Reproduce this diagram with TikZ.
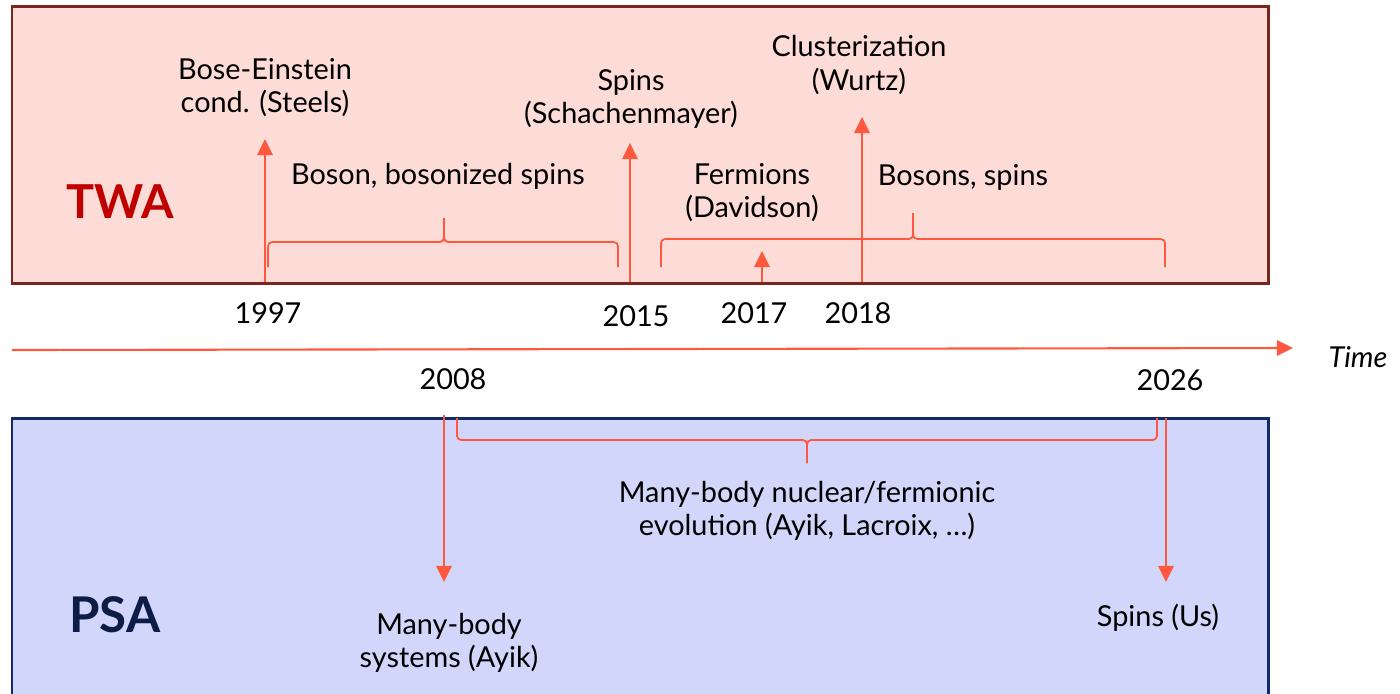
\documentclass[tikz,border=0pt]{standalone}
\usepackage{fontspec}
\setmainfont{Lato}
\usetikzlibrary{arrows.meta}
\definecolor{mtwafill}{RGB}{253,219,214}
\definecolor{mtwaline}{RGB}{122,38,30}
\definecolor{mtwatext}{RGB}{192,0,0}
\definecolor{mpsafill}{RGB}{209,214,250}
\definecolor{mpsaline}{RGB}{18,42,105}
\definecolor{mpsatext}{RGB}{12,28,68}
\definecolor{mevcolor}{RGB}{255,88,62}
\def\mboxleft{12}
\def\mboxright{1268}
\tikzset{
  evarrow/.style={draw=mevcolor, line width=0.6pt, -{Triangle[length=4.6pt,width=4.4pt]}},
  evbrace/.style={draw=mevcolor, line width=0.5pt, rounded corners=1.2pt},
  evlabel/.style={align=center, font=\fontsize{8.2}{9.4}\selectfont, inner sep=0pt},
  methlabel/.style={font=\fontsize{14}{16}\selectfont\bfseries, inner sep=0pt},
}
% brace: x1, x2, tip x, end y, middle y, tip y
\newcommand{\mbrace}[6]{%
  \draw[evbrace] (#1,#4) -- (#1,#5) -- (#3,#5) -- (#3,#6);
  \draw[evbrace] (#2,#4) -- (#2,#5) -- (#3,#5) -- (#3,#6);
}
\begin{document}
\begin{tikzpicture}[x=0.01cm, y=-0.01cm]
		\useasboundingbox (0,0) rectangle (1400,693);
		\clip (0,0) rectangle (1400,693);
		% TWA box
		\draw[fill=mtwafill, draw=mtwaline, line width=0.85pt] (\mboxleft,6) rectangle (\mboxright,283);
		\node[methlabel, font=\fontsize{13.3}{16}\selectfont\bfseries, text=mtwatext] (twa) at (120,202) {TWA};
		% PSA box (runs past the bottom edge)
		\draw[fill=mpsafill, draw=mpsaline, line width=0.85pt] (\mboxleft,418) rectangle (\mboxright,730);
		\node[methlabel, text=mpsatext] (psa) at (115,615) {PSA};

		% time axis
		\coordinate (t0) at (12,350);
		\coordinate (t1) at (1293,348);
		\draw[evarrow] (t0) -- (t1);
		\node[evlabel, font=\fontsize{8.2}{9.4}\selectfont\itshape] (time) at (1358,357) {Time};

		% years
		\node[evlabel] (y1997) at (268,313) {1997};
		\node[evlabel] (y2015) at (636,316) {2015};
		\node[evlabel] (y2017) at (754,313) {2017};
		\node[evlabel] (y2018) at (858,313) {2018};
		\node[evlabel] (y2008) at (453,379) {2008};
		\node[evlabel] (y2026) at (1170,380) {2026};

		% TWA events
		\node[evlabel] (bec) at (265,88) {Bose-Einstein\\cond. (Steels)};
		\node[evlabel] (spins) at (631,99) {Spins\\(Schachenmayer)};
		\node[evlabel] (clust) at (859,65) {Clusterization\\(Wurtz)};
		\node[evlabel] (bosons) at (438,176) {Boson, bosonized spins};
		\node[evlabel] (ferm) at (752,193) {Fermions\\(Davidson)};
		\node[evlabel] (bspins) at (963,177) {Bosons, spins};
		\coordinate (a1997) at (265,282);
		\coordinate (h1997) at (265,139);
		\coordinate (a2015) at (630,282);
		\coordinate (h2015) at (630,143);
		\coordinate (a2017) at (762,282);
		\coordinate (h2017) at (762,251);
		\coordinate (a2018) at (862,282);
		\coordinate (h2018) at (862,117);
		\draw[evarrow] (a1997) -- (h1997);
		\draw[evarrow] (a2015) -- (h2015);
		\draw[evarrow] (a2017) -- (h2017);
		\draw[evarrow] (a2018) -- (h2018);
		\mbrace{268}{618}{444}{267}{242}{218}
		\mbrace{661}{1165}{913}{267}{239}{213}

		% PSA events
		\node[evlabel] (nucl) at (807,511) {Many-body nuclear/fermionic\\evolution (Ayik, Lacroix, …)};
		\node[evlabel] (mbody) at (449,643) {Many-body\\systems (Ayik)};
		\node[evlabel] (us) at (1158,618) {Spins (Us)};
		\coordinate (a2008) at (444,415);
		\coordinate (h2008) at (444,582);
		\coordinate (a2026) at (1166,418);
		\coordinate (h2026) at (1166,582);
		\draw[evarrow] (a2008) -- (h2008);
		\draw[evarrow] (a2026) -- (h2026);
		\mbrace{457}{1157}{807}{418}{440}{463}
	\end{tikzpicture}
\end{document}
